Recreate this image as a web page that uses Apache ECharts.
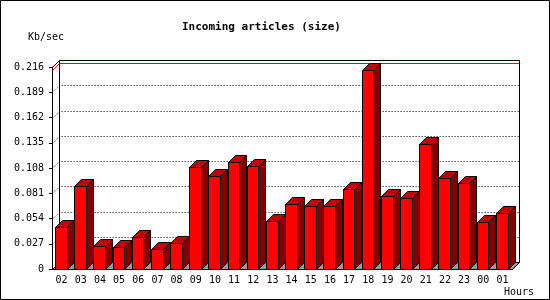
<!DOCTYPE html>
<html>
<head>
<meta charset="utf-8">
<title>Incoming articles (size)</title>
<script src="https://cdn.jsdelivr.net/npm/echarts@6/dist/echarts.min.js"></script>
<style>
  html, body { margin: 0; padding: 0; background: #fff; }
  #chartSize { width: 550px; height: 300px; }
</style>
</head>
<body>
<div id="chartSize"></div>
<script>
  // data
  var hours = ['02', '03', '04', '05', '06', '07', '08', '09', '10', '11', '12', '13',
               '14', '15', '16', '17', '18', '19', '20', '21', '22', '23', '00', '01'];
  var kbPerSec = [0.0452, 0.0889, 0.0249, 0.0239, 0.0345, 0.0217, 0.0281, 0.1091,
                  0.0996, 0.1145, 0.1102, 0.0516, 0.0697, 0.0675, 0.0675, 0.0857,
                  0.2129, 0.0782, 0.0761, 0.1337, 0.0974, 0.0921, 0.0505, 0.0601];
  var yTicks = [0, 0.027, 0.054, 0.081, 0.108, 0.135, 0.162, 0.189, 0.216];

  var DEPTH = 7;          // 3d offset, px
  var FONT = 'DejaVu Sans Mono';

  function px(v) {
    return Math.round(v) + 0.5;
  }

  // floor, back wall, dotted grid and the max line
  function renderFrame(params, api) {
    var cs = params.coordSys;
    var d = DEPTH;
    var x0 = px(cs.x), x1 = px(cs.x + cs.width);
    var yt = px(cs.y), yb = px(cs.y + cs.height);
    var kids = [];

    kids.push({
      type: 'polygon',
      shape: { points: [[x0, yb], [x0 + d, yb - d], [x1 + d, yb - d], [x1, yb]] },
      style: { fill: '#999999', stroke: '#000', lineWidth: 1 }
    });

    for (var i = 1; i < yTicks.length - 1; i++) {
      var y = px(api.coord([0, yTicks[i]])[1]);
      kids.push({
        type: 'polyline',
        shape: { points: [[x0, y], [x0 + d, y - d], [x1 + d, y - d]] },
        style: { stroke: '#000', lineWidth: 1, lineDash: [1, 2], fill: null }
      });
    }

    var maxY = px(api.coord([0, Math.max.apply(null, kbPerSec)])[1]);
    kids.push({
      type: 'polyline',
      shape: { points: [[x0, maxY], [x0 + d, maxY - d], [x1 + d, maxY - d]] },
      style: { stroke: '#ff0000', lineWidth: 1, fill: null }
    });

    kids.push({
      type: 'polyline',
      shape: { points: [[x0, yt], [x0 + d, yt - d], [x1 + d, yt - d], [x1 + d, yb - d], [x1, yb]] },
      style: { stroke: '#000', lineWidth: 1, fill: null }
    });
    kids.push({
      type: 'line',
      shape: { x1: x0 + d, y1: yt - d, x2: x0 + d, y2: yb - d },
      style: { stroke: '#000', lineWidth: 1 }
    });

    return { type: 'group', children: kids };
  }

  // one 3d bar: front, side, top
  function renderBar(params, api) {
    var d = DEPTH;
    var idx = api.value(0);
    var base = api.coord([idx, 0]);
    var top = api.coord([idx, api.value(1)]);
    var slot = api.size([1, 0])[0];
    var L = px(base[0] - slot / 2 + 3);
    var R = px(base[0] - slot / 2 + 14.7);
    var T = px(top[1]);
    var B = px(base[1]);
    var line = { stroke: '#000', lineWidth: 1 };

    return {
      type: 'group',
      children: [
        {
          type: 'polygon',
          shape: { points: [[R, T], [R + d, T - d], [R + d, B - d], [R, B]] },
          style: Object.assign({ fill: '#800000' }, line)
        },
        {
          type: 'polygon',
          shape: { points: [[L, T], [L + d, T - d], [R + d, T - d], [R, T]] },
          style: Object.assign({ fill: '#c00000' }, line)
        },
        {
          type: 'rect',
          shape: { x: L, y: T, width: R - L, height: B - T },
          style: Object.assign({ fill: '#ff0000' }, line)
        }
      ]
    };
  }

  var chart = echarts.init(document.getElementById('chartSize'));
  chart.setOption({
    animation: false,
    backgroundColor: '#fff',
    title: {
      text: 'Incoming articles (size)',
      left: 182,
      top: 22,
      padding: 0,
      textStyle: { fontFamily: FONT, fontSize: 11, fontWeight: 'bold', color: '#000' }
    },
    grid: {
      left: 52,
      right: 38,
      top: 67,
      bottom: 31
    },
    xAxis: {
      type: 'category',
      data: hours,
      z: 5,
      axisLine: { lineStyle: { color: '#000', width: 1 } },
      axisTick: { length: 4, interval: 0, lineStyle: { color: '#000' } },
      axisLabel: { interval: 0, margin: 6, color: '#000', fontFamily: FONT, fontSize: 10 },
      splitLine: { show: false }
    },
    yAxis: {
      type: 'value',
      min: 0,
      max: 0.216,
      interval: 0.027,
      z: 5,
      axisLine: { show: true, lineStyle: { color: '#000', width: 1 } },
      axisTick: { show: true, length: 3, lineStyle: { color: '#000' } },
      axisLabel: {
        margin: 8,
        color: '#000',
        fontFamily: FONT,
        fontSize: 10,
        formatter: function (v) { return v === 0 ? '0' : v.toFixed(3); }
      },
      splitLine: { show: false }
    },
    series: [
      {
        name: 'frame',
        type: 'custom',
        z: 1,
        silent: true,
        renderItem: renderFrame,
        data: [[0, 0]]
      },
      {
        name: 'size',
        type: 'custom',
        z: 2,
        renderItem: renderBar,
        encode: { x: 0, y: 1 },
        data: kbPerSec.map(function (v, i) { return [i, v]; })
      }
    ],
    graphic: [
      {
        type: 'text',
        left: 28,
        top: 32,
        style: { text: 'Kb/sec', fill: '#000', font: '10px "DejaVu Sans Mono"' }
      },
      {
        type: 'text',
        right: 16,
        top: 287,
        style: { text: 'Hours', fill: '#000', font: '10px "DejaVu Sans Mono"' }
      },
      {
        type: 'rect',
        shape: { x: 0.5, y: 0.5, width: 549, height: 299 },
        style: { fill: null, stroke: '#000', lineWidth: 1 },
        silent: true
      }
    ]
  });
</script>
</body>
</html>
